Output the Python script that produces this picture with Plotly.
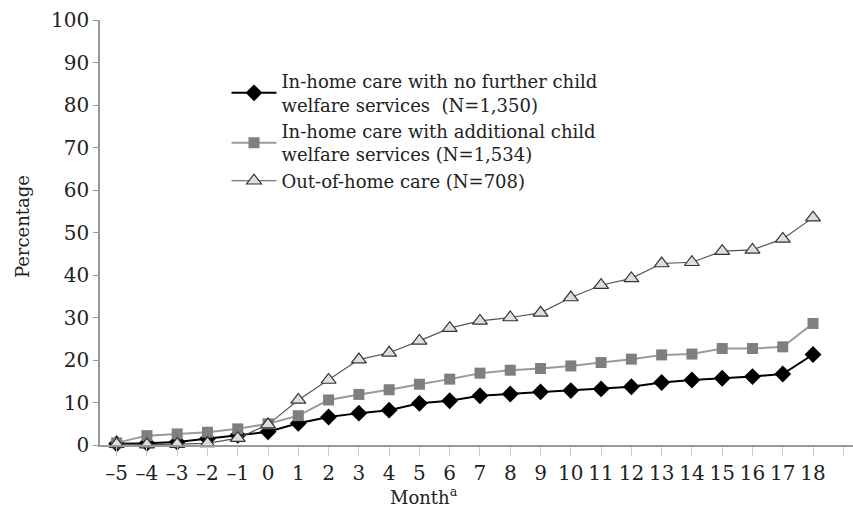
import plotly.graph_objects as go

months = list(range(-5, 19))
month_labels = ["–5", "–4", "–3", "–2", "–1"] + [str(m) for m in range(0, 19)]

no_further = [0.3, 0.4, 0.7, 1.5, 2.3, 3.1, 5.1, 6.6, 7.5, 8.2, 9.8, 10.4,
              11.6, 12.0, 12.5, 12.8, 13.2, 13.7, 14.7, 15.3, 15.7, 16.1, 16.7, 21.3]
additional = [0.5, 2.2, 2.6, 3.0, 3.8, 5.0, 6.9, 10.6, 11.9, 13.0, 14.3, 15.5,
              16.9, 17.6, 18.0, 18.6, 19.4, 20.2, 21.2, 21.4, 22.7, 22.7, 23.1, 28.6]
out_of_home = [0.2, 0.1, 0.2, 0.4, 1.6, 4.8, 10.6, 15.3, 20.1, 21.7, 24.5, 27.5,
               29.2, 30.0, 31.1, 34.7, 37.6, 39.2, 42.7, 43.0, 45.6, 45.9, 48.5, 53.5]

names = [
    "In-home care with no further child<br>welfare services  (N=1,350)",
    "In-home care with additional child<br>welfare services (N=1,534)",
    "Out-of-home care (N=708)",
]
y_ticks = list(range(0, 101, 10))

FONT = "DejaVu Serif"

fig = go.Figure()
fig.add_trace(go.Scatter(
    x=months, y=no_further, name=names[0], mode="lines+markers",
    line=dict(color="#000000", width=2),
    marker=dict(symbol="diamond", size=13, color="#000000"),
    cliponaxis=False,
))
fig.add_trace(go.Scatter(
    x=months, y=additional, name=names[1], mode="lines+markers",
    line=dict(color="#9a9a9a", width=2),
    marker=dict(symbol="square", size=11, color="#7f7f7f"),
    cliponaxis=False,
))
fig.add_trace(go.Scatter(
    x=months, y=out_of_home, name=names[2], mode="lines+markers",
    line=dict(color="#555555", width=1.2),
    marker=dict(symbol="triangle-up", size=13, color="#dedede",
                line=dict(color="#333333", width=1.2)),
    cliponaxis=False,
))

fig.update_layout(
    width=853, height=507, autosize=False,
    margin=dict(l=100, r=0, t=20, b=62),
    paper_bgcolor="white", plot_bgcolor="white",
    font=dict(family=FONT, color="#222222", size=18),
    showlegend=True,
    legend=dict(
        x=0.168, y=0.899, xanchor="left", yanchor="top",
        font=dict(family=FONT, size=18, color="#222222"),
        bgcolor="rgba(0,0,0,0)", borderwidth=0,
        itemwidth=45, valign="middle", tracegroupgap=0,
    ),
    xaxis=dict(
        range=[-5.55, 19.32], tickmode="array",
        tickvals=months, ticktext=month_labels,
        tickangle=0, showgrid=False, zeroline=False,
        showline=True, linecolor="#999999", linewidth=1.5,
        ticks="outside", ticklen=9, tickcolor="#cccccc", tickwidth=1,
        tickfont=dict(family=FONT, size=20, color="#222222"),
        minor=dict(tickmode="array", tickvals=[19], ticks="outside",
                   ticklen=9, tickcolor="#cccccc", tickwidth=1, showgrid=False),
    ),
    yaxis=dict(
        range=[0, 100], tickmode="array", tickvals=y_ticks,
        showgrid=False, zeroline=False,
        showline=True, linecolor="#999999", linewidth=1.5,
        ticks="outside", ticklen=5, tickcolor="#999999", tickwidth=1,
        tickfont=dict(family=FONT, size=20, color="#222222"),
    ),
    annotations=[
        dict(text="Percentage", xref="paper", yref="paper",
             x=-0.1036, y=0.515, xanchor="center", yanchor="middle",
             textangle=-90, showarrow=False,
             font=dict(family=FONT, size=18, color="#222222")),
        dict(text="Month<sup>a</sup>", xref="paper", yref="paper",
             x=0.43, y=-0.121, xanchor="center", yanchor="middle",
             showarrow=False,
             font=dict(family=FONT, size=18, color="#222222")),
    ],
)

fig.write_html("out.html", config={"displayModeBar": False},
               post_script="document.body.style.margin='0';document.body.style.overflow='hidden';")
